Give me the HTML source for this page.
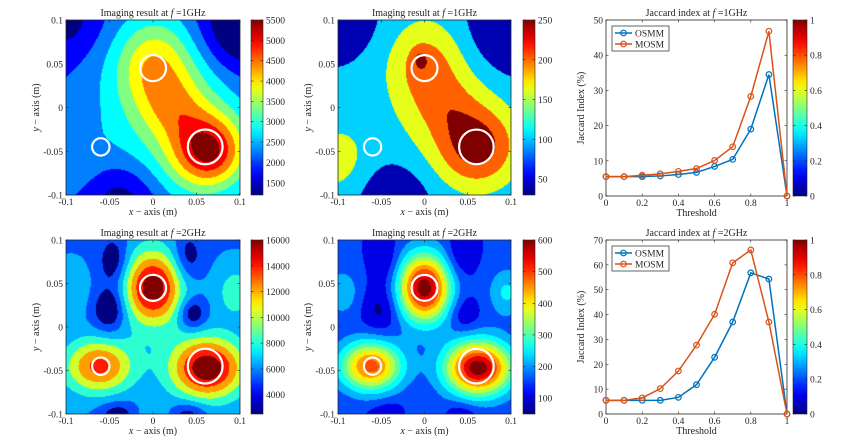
<!DOCTYPE html>
<html><head><meta charset="utf-8"><style>
body{margin:0;background:#fff;width:854px;height:444px;overflow:hidden;position:relative;font-family:"Liberation Serif",serif}
canvas{position:absolute}
svg{position:absolute;left:0;top:0}
</style></head><body>
<canvas id="c1"></canvas>
<canvas id="c2"></canvas>
<canvas id="c4"></canvas>
<canvas id="c5"></canvas>
<svg id="s" width="854" height="444"></svg>
<script>
// ---- line chart data ----
const thresholds=[0,0.1,0.2,0.3,0.4,0.5,0.6,0.7,0.8,0.9,1];
const osmm1=[5.5,5.5,5.5,5.7,6.1,6.7,8.4,10.4,19,34.5,0];
const mosm1=[5.5,5.5,5.9,6.3,7,7.8,10.1,14,28.3,46.8,0];
const osmm2=[5.5,5.5,5.5,5.5,6.7,11.8,22.8,37,56.8,54.3,0];
const mosm2=[5.5,5.5,6.5,10.2,17.3,27.7,40.1,60.8,66,37,0];
const xTicks=[0,0.2,0.4,0.6,0.8,1];
const yTicks1=[0,10,20,30,40,50];
const yTicks2=[0,10,20,30,40,50,60,70];
const cbTicksLine=[0,0.2,0.4,0.6,0.8,1];
// ---- field data: blobs [x,y,amp,sx,sy] ----
const blobs1=[[0.065,-0.05,0.58,0.03,0.03],[0,0.05,0.28,0.03,0.035],[0.025,0,0.16,0.025,0.025],[0.02,0.0,0.28,0.06,0.075],[0.1,0.09,-0.3,0.035,0.035],[-0.035,-0.105,-0.2,0.03,0.03],[-0.1,0.1,-0.15,0.03,0.03],[-0.1,-0.06,0.1,0.03,0.03]];
const blobs2=[[0.062,-0.045,0.6,0.032,0.032],[0,0.05,0.32,0.028,0.033],[-0.005,0.055,0.2,0.006,0.008],[0.025,0,0.17,0.025,0.025],[0.02,0.01,0.2,0.05,0.06],[0.1,0.09,-0.35,0.035,0.035],[-0.035,-0.105,-0.25,0.03,0.03],[-0.1,0.1,-0.25,0.03,0.03],[-0.1,-0.06,0.25,0.025,0.03]];
const blobs4=[[0,0.045,0.72,0.024,0.03],[0.062,-0.047,0.74,0.03,0.025],[-0.062,-0.045,0.55,0.028,0.022],[-0.05,0.02,-0.3,0.013,0.018],[0.045,0.015,-0.28,0.011,0.013],[-0.045,0.075,-0.25,0.012,0.02],[0.04,0.08,-0.22,0.012,0.02],[-0.04,-0.1,-0.22,0.015,0.01],[0.04,-0.1,-0.22,0.015,0.01],[-0.095,0.04,0.12,0.015,0.02],[0.095,0.04,0.22,0.015,0.02],[0,-0.1,0.08,0.02,0.01]];
const blobs5=[[0,0.045,0.8,0.021,0.027],[0.062,-0.047,0.8,0.027,0.022],[-0.062,-0.045,0.62,0.025,0.02],[-0.05,0.02,-0.12,0.015,0.02],[0.045,0.015,-0.1,0.012,0.015],[-0.045,0.075,-0.1,0.012,0.02],[0.04,0.08,-0.1,0.012,0.02],[-0.04,-0.1,-0.1,0.015,0.01],[0.04,-0.1,-0.1,0.015,0.01],[-0.095,0.04,0.14,0.015,0.02],[0.095,0.04,0.18,0.015,0.02],[0,-0.1,0.08,0.02,0.01]];
const base1=0.2,base2=0.24,base4=0.24,base5=0.17;
const levels1=[0,0.125,0.25,0.375,0.5,0.625,0.75,0.875,1];
const levels2=[0.05,0.33,0.6,0.78,1];
const levels4=[0,0.2,0.3,0.42,0.58,0.72,0.85,1];
const levels5=[0,0.1,0.2,0.3,0.38,0.46,0.55,0.64,0.72,0.8,0.9,1];
const cbTicks1=[1500,2000,2500,3000,3500,4000,4500,5000,5500],cbRange1=[1200,5500];
const cbTicks2=[50,100,150,200,250],cbRange2=[30,250];
const cbTicks4=[4000,6000,8000,10000,12000,14000,16000],cbRange4=[2500,16000];
const cbTicks5=[100,200,300,400,500,600],cbRange5=[50,600];
const fieldTicks=[-0.1,-0.05,0,0.05,0.1];
const circles=[[0,0.045,0.015],[-0.06,-0.045,0.01],[0.06,-0.045,0.02]];

function cl(v){return Math.max(0,Math.min(1,v));}
function jet(t){return [cl(1.5-Math.abs(4*t-3)),cl(1.5-Math.abs(4*t-2)),cl(1.5-Math.abs(4*t-1))].map(v=>Math.round(v*255));}
function jetS(t){const c=jet(t);return `rgb(${c[0]},${c[1]},${c[2]})`;}
const S=document.getElementById('s');const NS='http://www.w3.org/2000/svg';
function el(tag,attrs,parent){const e=document.createElementNS(NS,tag);for(const k in attrs)e.setAttribute(k,attrs[k]);(parent||S).appendChild(e);return e;}
function txt(x,y,s,attrs,name){const e=el('text',Object.assign({x:x,y:y,'font-size':10,'font-family':'Liberation Serif, serif',fill:'#262626'},attrs||{}));e.innerHTML=s;return e;}
const defs=el('defs',{});const g=el('linearGradient',{id:'jg',x1:0,y1:1,x2:0,y2:0},defs);
for(let i=0;i<=20;i++)el('stop',{offset:i/20,'stop-color':jetS(i/20)},g);

function colorbar(x0,x1,y0,y1,ticks,range,name){
  const r=el('rect',{x:x0,y:y0,width:x1-x0,height:y1-y0,fill:'url(#jg)',stroke:'#262626','stroke-width':0.6});
  
  ticks.forEach(t=>{const y=y1-(t-range[0])/(range[1]-range[0])*(y1-y0);
    el('line',{x1:x0,x2:x0+2.5,y1:y,y2:y,stroke:'#262626','stroke-width':0.6});
    el('line',{x1:x1,x2:x1-2.5,y1:y,y2:y,stroke:'#262626','stroke-width':0.6});
    txt(x1+3,y+3.5,String(t),{'font-size':9.5},name+'-tick');});
}
function fmt(v){return v===0?'0':String(v);}
function fieldPanel(id,x0,x1,y0,y1,blobs,base,levels,cb,cbTicks,cbRange,freq,pname){
  const c=document.getElementById(id);const w=Math.round(x1-x0),h=Math.round(y1-y0);
  c.width=w;c.height=h;c.style.left=x0+'px';c.style.top=y0+'px';
  const ctx=c.getContext('2d');const im=ctx.createImageData(w,h);const nb=levels.length;
  for(let j=0;j<h;j++)for(let i=0;i<w;i++){
    const X=-0.1+0.2*(i+0.5)/w,Y=0.1-0.2*(j+0.5)/h;let t=base;
    blobs.forEach(b=>{const dx=(X-b[0])/b[3],dy=(Y-b[1])/b[4];t+=b[2]*Math.exp(-(dx*dx+dy*dy)/2);});
    let k=Math.floor(cl(t)*nb);if(k>=nb)k=nb-1;const col=jet(levels[k]);const p=(j*w+i)*4;
    im.data[p]=col[0];im.data[p+1]=col[1];im.data[p+2]=col[2];im.data[p+3]=255;}
  ctx.putImageData(im,0,0);
  const sx=v=>x0+(v+0.1)/0.2*(x1-x0),sy=v=>y1-(v+0.1)/0.2*(y1-y0);
  circles.forEach(cc=>{const e=el('circle',{cx:sx(cc[0]),cy:sy(cc[1]),r:cc[2]/0.2*(x1-x0),fill:'none',stroke:'#fff','stroke-width':2.2});
    });
  const fr=el('rect',{x:x0,y:y0,width:x1-x0,height:y1-y0,fill:'none',stroke:'#262626','stroke-width':0.8});
  
  fieldTicks.forEach(t=>{const x=sx(t),y=sy(t);
    el('line',{x1:x,x2:x,y1:y1,y2:y1-2.5,stroke:'#262626','stroke-width':0.6});
    el('line',{x1:x,x2:x,y1:y0,y2:y0+2.5,stroke:'#262626','stroke-width':0.6});
    el('line',{x1:x0,x2:x0+2.5,y1:y,y2:y,stroke:'#262626','stroke-width':0.6});
    el('line',{x1:x1,x2:x1-2.5,y1:y,y2:y,stroke:'#262626','stroke-width':0.6});
    txt(x,y1+10,fmt(t),{'text-anchor':'middle','font-size':9.5},'x-tick-label');
    txt(x0-3,y+3.5,fmt(t),{'text-anchor':'end','font-size':9.5},'y-tick-label');});
  txt((x0+x1)/2,y0-4,'Imaging result at <tspan font-style="italic">f</tspan> ='+freq,{'text-anchor':'middle','font-size':10},'panel-title');
  txt((x0+x1)/2,y1+20,'<tspan font-style="italic">x</tspan> − axis (m)',{'text-anchor':'middle','font-size':10},'x-axis-title');
  txt(0,0,'<tspan font-style="italic">y</tspan> − axis (m)',{'text-anchor':'middle','font-size':10,transform:`translate(${x0-27},${(y0+y1)/2}) rotate(-90)`},'y-axis-title');
  colorbar(cb[0],cb[1],y0,y1,cbTicks,cbRange,pname+'-colorbar');
}
function linePanel(x0,x1,y0,y1,ymax,yTicks,series,freq,pname){
  const sx=v=>x0+v*(x1-x0),sy=v=>y1-v/ymax*(y1-y0);
  const fr=el('rect',{x:x0,y:y0,width:x1-x0,height:y1-y0,fill:'#fff',stroke:'#262626','stroke-width':0.8});
  
  xTicks.forEach(t=>{const x=sx(t);el('line',{x1:x,x2:x,y1:y1,y2:y1-2.5,stroke:'#262626','stroke-width':0.6});el('line',{x1:x,x2:x,y1:y0,y2:y0+2.5,stroke:'#262626','stroke-width':0.6});
    txt(x,y1+10,String(t),{'text-anchor':'middle','font-size':9.5},'x-tick-label');});
  yTicks.forEach(t=>{const y=sy(t);el('line',{x1:x0,x2:x0+2.5,y1:y,y2:y,stroke:'#262626','stroke-width':0.6});el('line',{x1:x1,x2:x1-2.5,y1:y,y2:y,stroke:'#262626','stroke-width':0.6});
    txt(x0-3,y+3.5,String(t),{'text-anchor':'end','font-size':9.5},'y-tick-label');});
  series.forEach(s=>{const pts=thresholds.map((t,i)=>sx(t)+','+sy(s.v[i])).join(' ');
    const l=el('polyline',{points:pts,fill:'none',stroke:s.c,'stroke-width':1.5});
    
    thresholds.forEach((t,i)=>{const m=el('circle',{cx:sx(t),cy:sy(s.v[i]),r:2.8,fill:'none',stroke:s.c,'stroke-width':1.2});
      });});
  const lg=el('g',{});
  el('rect',{x:x0+6,y:y0+6,width:57,height:25,fill:'#fff',stroke:'#262626','stroke-width':0.7},lg);
  series.forEach((s,i)=>{const y=y0+13+i*11;el('line',{x1:x0+9,x2:x0+26,y1:y,y2:y,stroke:s.c,'stroke-width':1.5},lg);
    el('circle',{cx:x0+17.5,cy:y,r:2.8,fill:'none',stroke:s.c,'stroke-width':1.2},lg);
    txt(x0+29,y+3.5,s.n,{'font-size':9.5},'legend-entry');});
  txt((x0+x1)/2,y0-4,'Jaccard index at <tspan font-style="italic">f</tspan> ='+freq,{'text-anchor':'middle','font-size':10},'panel-title');
  txt((x0+x1)/2,y1+20,'Threshold',{'text-anchor':'middle','font-size':10},'x-axis-title');
  txt(0,0,'Jaccard Index (%)',{'text-anchor':'middle','font-size':10,transform:`translate(${x0-22},${(y0+y1)/2}) rotate(-90)`},'y-axis-title');
  colorbar(793,807,y0,y1,cbTicksLine,[0,1],pname+'-colorbar');
}
fieldPanel('c1',66,240,20,195,blobs1,base1,levels1,[251,263],cbTicks1,cbRange1,'1GHz','osmm-1ghz');
fieldPanel('c2',338,511,20,195,blobs2,base2,levels2,[523,535],cbTicks2,cbRange2,'1GHz','mosm-1ghz');
fieldPanel('c4',66,240,240,414,blobs4,base4,levels4,[251,263],cbTicks4,cbRange4,'2GHz','osmm-2ghz');
fieldPanel('c5',338,511,240,414,blobs5,base5,levels5,[523,535],cbTicks5,cbRange5,'2GHz','mosm-2ghz');
linePanel(606,787,20,196,50,yTicks1,[{n:'OSMM',v:osmm1,c:'#0072BD'},{n:'MOSM',v:mosm1,c:'#D95319'}],'1GHz','jaccard-1ghz');
linePanel(606,787,240,414,70,yTicks2,[{n:'OSMM',v:osmm2,c:'#0072BD'},{n:'MOSM',v:mosm2,c:'#D95319'}],'2GHz','jaccard-2ghz');
</script>
</body></html>
